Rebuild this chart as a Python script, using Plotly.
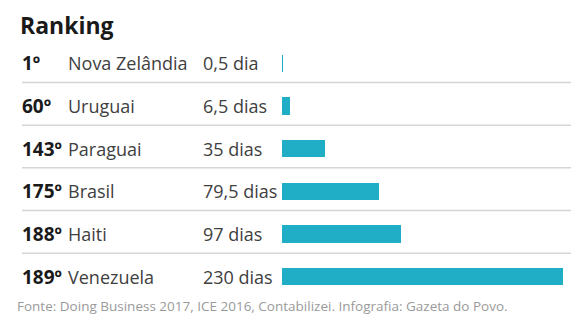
import plotly.graph_objects as go

ranks = ["1º", "60º", "143º", "175º", "188º", "189º"]
countries = ["Nova Zelândia", "Uruguai", "Paraguai", "Brasil", "Haiti", "Venezuela"]
value_labels = ["0,5 dia", "6,5 dias", "35 dias", "79,5 dias", "97 dias", "230 dias"]
days = [0.5, 6.5, 35, 79.5, 97, 230]

W, H = 582, 324
L, R, T, B = 282, 11, 41.6, 25.6
pw = W - L - R

def px_to_paper(px):
    return (px - L) / pw

pos = list(range(len(countries)))
fig = go.Figure()
fig.add_trace(go.Bar(
    x=days, y=pos, orientation="h", width=0.4,
    marker=dict(color="#20AEC6", line=dict(width=0)),
    hoverinfo="skip",
))

font = "Open Sans, sans-serif"
annotations = []
for i, (rk, c, v) in enumerate(zip(ranks, countries, value_labels)):
    annotations.append(dict(x=px_to_paper(20), y=i, xref="paper", yref="y", text="<b>" + rk + "</b>",
                            showarrow=False, xanchor="left", yanchor="middle",
                            font=dict(family=font, size=19, color="#1a1a1a")))
    annotations.append(dict(x=px_to_paper(66), y=i, xref="paper", yref="y", text=c,
                            showarrow=False, xanchor="left", yanchor="middle",
                            font=dict(family=font, size=18, color="#404040")))
    annotations.append(dict(x=px_to_paper(201), y=i, xref="paper", yref="y", text=v,
                            showarrow=False, xanchor="left", yanchor="middle",
                            font=dict(family=font, size=18, color="#404040")))

annotations.append(dict(x=px_to_paper(15), y=0.01, xref="paper", yref="paper",
                        text="Fonte: Doing Business 2017, ICE 2016, Contabilizei. Infografia: Gazeta do Povo.",
                        showarrow=False, xanchor="left", yanchor="top",
                        font=dict(family=font, size=13.5, color="#9a9a9a")))

shapes = []
for i in range(len(countries) - 1):
    shapes.append(dict(type="line", xref="paper", yref="y", x0=px_to_paper(22), x1=1.0,
                       y0=i + 0.45, y1=i + 0.45, line=dict(color="#d6d6d6", width=1.5)))

fig.update_layout(
    width=W, height=H,
    margin=dict(l=L, r=R, t=T, b=B),
    paper_bgcolor="white", plot_bgcolor="white",
    showlegend=False,
    title=dict(text="<b>Ranking</b>", x=20 / W, xanchor="left", y=1 - 26 / H, yanchor="middle",
               font=dict(family=font, size=23, color="#1a1a1a")),
    xaxis=dict(range=[0, pw / (281 / 230)], visible=False, fixedrange=True),
    yaxis=dict(range=[5.5, -0.5], visible=False, fixedrange=True),
    annotations=annotations,
    shapes=shapes,
    bargap=0,
)

fig.write_html("out.html", config={"displayModeBar": False})
